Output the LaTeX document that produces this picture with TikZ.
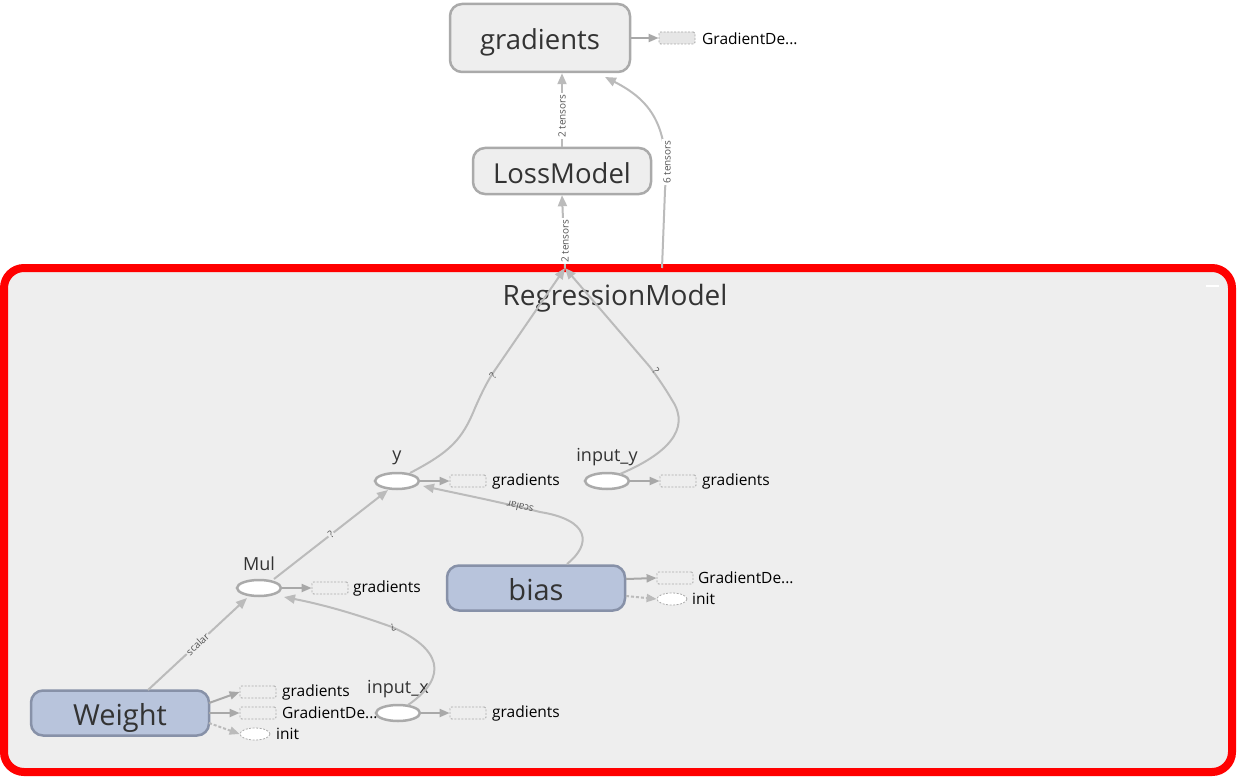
\documentclass[tikz,border=0pt]{standalone}
\usepackage{fontspec}
\setmainfont{Open Sans}
\usetikzlibrary{arrows.meta,shapes.geometric}
\definecolor{edgec}{HTML}{BBBBBB}
\definecolor{auxedge}{HTML}{A8A8A8}
\definecolor{nodeb}{HTML}{AAAAAA}
\definecolor{grpfill}{HTML}{EEEEEE}
\definecolor{auxfill}{HTML}{E6E6E6}
\definecolor{varfill}{HTML}{B8C4DC}
\definecolor{vardraw}{HTML}{8791A8}
\definecolor{txt}{HTML}{333333}
\definecolor{lbltxt}{HTML}{555555}
\definecolor{frame}{HTML}{FF0000}
\begin{document}
\begin{tikzpicture}[x=1pt,y=-1pt,
  meta/.style={draw=nodeb, fill=grpfill, line width=2.5pt, rounded corners=12pt, text=txt,
    font=\fontsize{27.5}{30}\selectfont, inner sep=0pt, text height=24pt, text depth=0pt},
  var/.style={draw=vardraw, fill=varfill, line width=2.5pt, rounded corners=12pt, text=txt,
    font=\fontsize{29}{32}\selectfont, inner sep=0pt, minimum width=178pt, minimum height=45pt,
    text height=25pt, text depth=0pt},
  op/.style={ellipse, draw=nodeb, fill=white, line width=2.5pt, minimum width=44pt,
    minimum height=16pt, inner sep=0pt},
  oplbl/.style={text=txt, font=\fontsize{18}{20}\selectfont, inner sep=0pt},
  auxbox/.style={draw=nodeb, dash pattern=on 2pt off 1.5pt, line width=0.8pt, fill=grpfill,
    minimum width=36pt, minimum height=12pt, inner sep=0pt, rounded corners=1.5pt},
  auxell/.style={ellipse, draw=nodeb, dash pattern=on 2pt off 1.5pt, line width=0.8pt, fill=white,
    minimum width=30pt, minimum height=12pt, inner sep=0pt},
  auxlbl/.style={anchor=west, text=black, font=\fontsize{15.5}{18}\selectfont, inner sep=0pt},
  edge/.style={draw=edgec, line width=2pt, -{Triangle[length=11pt,width=9pt]}},
  auxarrow/.style={draw=auxedge, line width=2pt, -{Triangle[length=10pt,width=8pt]}},
  auxdash/.style={draw=edgec, line width=2pt, dash pattern=on 3pt off 2pt, -{Triangle[length=10pt,width=8pt]}},
  elbl/.style={text=lbltxt, font=\fontsize{10}{12}\selectfont, inner sep=1pt}
]
\useasboundingbox (0,0) rectangle (1238,778);
\fill[white] (0,0) rectangle (1238,778);

% ---- RegressionModel group ----
\draw[draw=frame, fill=grpfill, line width=8pt, rounded corners=20pt] (4,268) rectangle (1232,772);
\draw[white, line width=2.5pt] (1206,286) -- (1219,286);
\node[text=txt, font=\fontsize{28}{30}\selectfont, inner sep=0pt] (rmlbl) at (615,298) {RegressionModel};
\coordinate (rm) at (565,268);
\coordinate (rm6) at (662,268);

% ---- top-level nodes ----
\node[meta, minimum width=180pt, minimum height=68pt] (grad) at (540,38) {gradients};
\node[meta, minimum width=178pt, minimum height=46pt] (loss) at (562,171) {LossModel};
\node[auxbox, fill=auxfill] (gradaux) at (677,38) {};
\node[auxlbl] (gradauxl) at (702,39) {GradientDe...};
\draw[auxarrow] (grad.east |- gradaux) -- (gradaux.west);

% loss -> gradients
\draw[edge] (loss.north) -- (grad.south -| loss.north);
\node[elbl, rotate=90, fill=white] (l2a) at (562,116) {2 tensors};
% rm -> loss
\draw[edge] (rm) -- (loss.south);
\node[elbl, rotate=90, fill=white] (l2b) at (565,241) {2 tensors};
% rm -> gradients (6 tensors)
\draw[edge] (rm6) -- (665,190) .. controls (670,125) and (650,100) .. (605,77);
\node[elbl, rotate=90, fill=white] (l6) at (667,162) {6 tensors};

% ---- ops ----
\node[op] (y) at (397,481) {};
\node[oplbl] (ylbl) at (397,458) {y};
\node[op] (iy) at (607,481) {};
\node[oplbl] (iylbl) at (607,457) {input\_y};
\node[op] (mul) at (259,588) {};
\node[oplbl] (mullbl) at (259,564) {Mul};
\node[op] (ix) at (398,713) {};
\node[oplbl] (ixlbl) at (398,689) {input\_x};

\node[var] (bias) at (536,588) {bias};
\node[var] (weight) at (120,713) {Weight};

% ---- aux nodes ----
\node[auxbox] (yaux) at (468,481) {};
\node[auxlbl] (yauxl) at (492,481) {gradients};
\draw[auxarrow] (y.east) -- (yaux.west);

\node[auxbox] (iyaux) at (678,481) {};
\node[auxlbl] (iyauxl) at (702,481) {gradients};
\draw[auxarrow] (iy.east) -- (iyaux.west);

\node[auxbox] (mulaux) at (330,588) {};
\node[auxlbl] (mulauxl) at (353,588) {gradients};
\draw[auxarrow] (mul.east) -- (mulaux.west);

\node[auxbox] (ixaux) at (468,713) {};
\node[auxlbl] (ixauxl) at (492,713) {gradients};
\draw[auxarrow] (ix.east) -- (ixaux.west);

\node[auxbox] (baux1) at (675,578) {};
\node[auxlbl] (baux1l) at (698,578) {GradientDe...};
\node[auxell] (baux2) at (672,599) {};
\node[auxlbl] (baux2l) at (692,599) {init};
\draw[auxarrow] (626,579) -- (baux1.west);
\draw[auxdash] (626,596) -- (baux2.west);

\node[auxbox] (waux1) at (258,692) {};
\node[auxlbl] (waux1l) at (282,692) {gradients};
\node[auxbox] (waux2) at (258,713) {};
\node[auxlbl] (waux2l) at (282,713) {GradientDe...};
\node[auxell] (waux3) at (255,734) {};
\node[auxlbl] (waux3l) at (276,734) {init};
\draw[auxarrow] (209,703) -- (waux1.west);
\draw[auxarrow] (209,713) -- (waux2.west);
\draw[auxdash] (209,723) -- (waux3.west);

% ---- data edges ----
\draw[edge] (148,690) -- node[elbl, sloped, fill=grpfill] (lsc1) {scalar} (247,598);
\draw[edge] (274,579) -- node[elbl, sloped, fill=grpfill] (lq1) {?} (388,490);
\draw[edge] (408,705) .. controls (450,676) and (440,648) .. (392,627)
  .. controls (350,612) and (320,604) .. (284,597);
\node[elbl, rotate=-155] (lq2) at (393,628) {?};
\draw[edge] (567,564) .. controls (592,544) and (590,520) .. (540,512)
  .. controls (500,502) and (460,494) .. (423,486);
\node[elbl, rotate=166] (lsc2) at (520,507) {scalar};
\draw[edge] (410,473) .. controls (450,452) and (462,440) .. (475,408)
  .. controls (482,392) and (488,380) .. (495,370) -- (rm);
\node[elbl, rotate=55] (lq3) at (493,376) {?};
\draw[edge] (620,474) .. controls (665,455) and (692,430) .. (672,400)
  .. controls (665,388) and (658,378) .. (650,367) -- (rm);
\node[elbl, rotate=-50] (lq4) at (656,371) {?};
\end{tikzpicture}
\end{document}
